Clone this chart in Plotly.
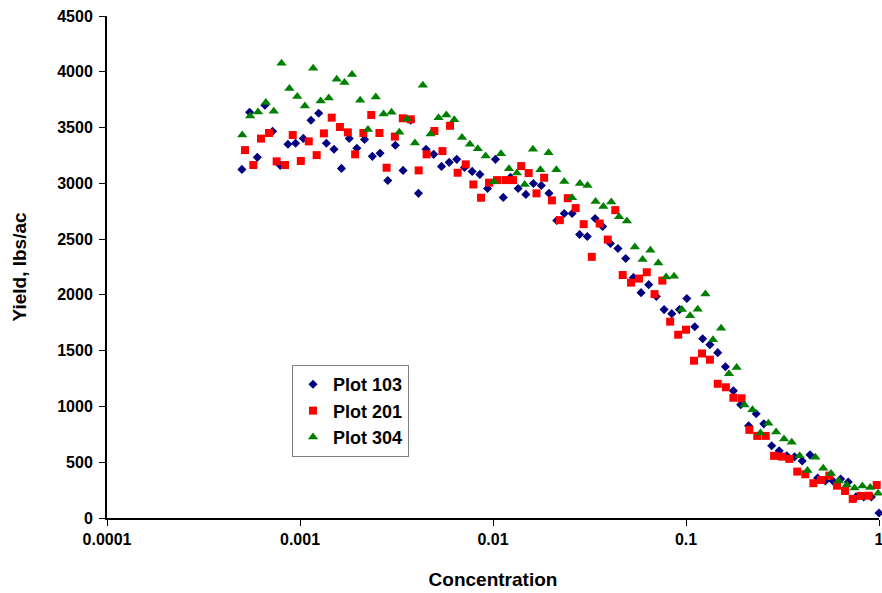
import plotly.graph_objects as go

# ---- data ----
plot103_conc = [0.000500, 0.000548, 0.000601, 0.000658, 0.000721, 0.000790, 0.000866, 0.000949, 0.00104, 0.00114,
                0.00125, 0.00137, 0.00150, 0.00164, 0.00180, 0.00197, 0.00216, 0.00237, 0.00260, 0.00285,
                0.00312, 0.00342, 0.00375, 0.00411, 0.00450, 0.00493, 0.00541, 0.00593, 0.00649, 0.00712,
                0.00780, 0.00855, 0.00937, 0.0103, 0.0113, 0.0123, 0.0135, 0.0148, 0.0162, 0.0178,
                0.0195, 0.0214, 0.0234, 0.0257, 0.0281, 0.0308, 0.0338, 0.0370, 0.0406, 0.0444,
                0.0487, 0.0534, 0.0585, 0.0641, 0.0702, 0.0770, 0.0844, 0.0925, 0.101, 0.111,
                0.122, 0.133, 0.146, 0.160, 0.176, 0.192, 0.211, 0.231, 0.253, 0.278,
                0.304, 0.333, 0.365, 0.400, 0.439, 0.481, 0.527, 0.577, 0.633, 0.693,
                0.760, 0.833, 0.913, 1.00]
plot103_yield = [3125, 3637, 3233, 3700, 3466, 3161, 3350, 3359, 3403, 3565,
                 3628, 3359, 3305, 3134, 3403, 3314, 3394, 3242, 3269, 3026,
                 3341, 3116, 3565, 2910, 3305, 3260, 3152, 3188, 3215, 3143,
                 3107, 3080, 2954, 3215, 2874, 3053, 2954, 2901, 2999, 2981,
                 2910, 2667, 2730, 2730, 2541, 2523, 2685, 2613, 2461, 2416,
                 2326, 2155, 2020, 2092, 1985, 1868, 1832, 1868, 1967, 1715,
                 1607, 1554, 1482, 1356, 1140, 1015, 826, 934, 844, 647,
                 602, 557, 548, 512, 566, 359, 332, 332, 350, 323,
                 189, 189, 189, 45]

plot201_conc = [0.000519, 0.000573, 0.000628, 0.000691, 0.000757, 0.000836, 0.000917, 0.00101, 0.00111, 0.00122,
                0.00133, 0.00146, 0.00161, 0.00177, 0.00193, 0.00213, 0.00234, 0.00258, 0.00281, 0.00310,
                0.00341, 0.00375, 0.00412, 0.00453, 0.00497, 0.00547, 0.00599, 0.00656, 0.00722, 0.00791,
                0.00867, 0.00954, 0.0105, 0.0116, 0.0127, 0.0140, 0.0153, 0.0168, 0.0184, 0.0202,
                0.0222, 0.0244, 0.0268, 0.0295, 0.0325, 0.0357, 0.0393, 0.0430, 0.0470, 0.0519,
                0.0571, 0.0626, 0.0687, 0.0754, 0.0828, 0.0911, 0.100, 0.110, 0.121, 0.133,
                0.146, 0.161, 0.176, 0.194, 0.213, 0.234, 0.259, 0.286, 0.314, 0.343,
                0.377, 0.415, 0.457, 0.501, 0.553, 0.606, 0.667, 0.731, 0.804, 0.884,
                0.973]
plot201_yield = [3298, 3164, 3401, 3451, 3197, 3164, 3433, 3200, 3376, 3253,
                 3448, 3589, 3505, 3457, 3260, 3451, 3613, 3451, 3140, 3419,
                 3583, 3574, 3116, 3260, 3469, 3289, 3516, 3095, 3170, 2990,
                 2871, 3006, 3029, 3029, 3029, 3155, 3092, 2910, 3050, 2847,
                 2670, 2867, 2778, 2634, 2341, 2640, 2496, 2760, 2178, 2110,
                 2146, 2203, 2007, 2128, 1760, 1643, 1688, 1410, 1475, 1419,
                 1203, 1172, 1078, 1073, 790, 736, 736, 557, 550, 530,
                 416, 392, 312, 341, 380, 290, 242, 171, 198, 200,
                 296]

plot304_conc = [0.000502, 0.000552, 0.000606, 0.000665, 0.000731, 0.000802, 0.000881, 0.000968, 0.00106, 0.00117,
                0.00128, 0.00141, 0.00155, 0.00170, 0.00186, 0.00205, 0.00225, 0.00247, 0.00271, 0.00298,
                0.00327, 0.00359, 0.00394, 0.00433, 0.00475, 0.00522, 0.00573, 0.00630, 0.00691, 0.00759,
                0.00834, 0.00916, 0.0101, 0.0110, 0.0121, 0.0133, 0.0146, 0.0161, 0.0176, 0.0194,
                0.0213, 0.0234, 0.0257, 0.0282, 0.0309, 0.0340, 0.0373, 0.0410, 0.0450, 0.0494,
                0.0543, 0.0596, 0.0654, 0.0719, 0.0789, 0.0867, 0.0952, 0.105, 0.115, 0.126,
                0.138, 0.152, 0.167, 0.183, 0.201, 0.221, 0.243, 0.267, 0.293, 0.322,
                0.353, 0.388, 0.426, 0.468, 0.514, 0.564, 0.619, 0.680, 0.747, 0.820,
                0.901, 0.989]
plot304_yield = [3433, 3604, 3640, 3724, 3646, 4077, 3850, 3778, 3693, 4032,
                 3738, 3765, 3933, 3904, 3975, 3745, 3482, 3774, 3622, 3637,
                 3457, 3577, 3361, 3879, 3442, 3589, 3613, 3570, 3410, 3350,
                 3311, 3244, 3015, 3266, 3131, 3092, 2990, 3305, 3122, 3275,
                 3122, 3017, 2871, 2999, 2981, 2838, 2793, 2833, 2700, 2663,
                 2429, 2317, 2400, 2285, 2161, 2167, 1868, 1814, 1871, 2009,
                 1598, 1700, 1293, 1350, 1012, 970, 763, 850, 770, 709,
                 680, 557, 425, 545, 446, 400, 332, 296, 269, 287,
                 274, 222]

x_tickvals = [0.0001, 0.001, 0.01, 0.1, 1]
x_ticktext = ["0.0001", "0.001", "0.01", "0.1", "1"]
y_tickvals = [0, 500, 1000, 1500, 2000, 2500, 3000, 3500, 4000, 4500]

FONT = "Liberation Sans, Arial, sans-serif"

fig = go.Figure()
fig.add_trace(go.Scatter(x=plot103_conc, y=plot103_yield, mode="markers", name="Plot 103",
                         legendgroup="a", cliponaxis=False,
                         marker=dict(symbol="diamond", size=7, color="#000080")))
fig.add_trace(go.Scatter(x=plot201_conc, y=plot201_yield, mode="markers", name="Plot 201",
                         legendgroup="b", cliponaxis=False,
                         marker=dict(symbol="square", size=8, color="#FF0000")))
fig.add_trace(go.Scatter(x=plot304_conc, y=plot304_yield, mode="markers", name="Plot 304",
                         legendgroup="c", cliponaxis=False,
                         marker=dict(symbol="triangle-up", size=9, color="#008000")))

fig.update_layout(
    width=882, height=593,
    margin=dict(l=107, r=3, t=16, b=75, autoexpand=False),
    paper_bgcolor="white", plot_bgcolor="white",
    font=dict(family=FONT, size=16, color="black", weight="bold"),
    showlegend=True,
    legend=dict(x=(292 - 107) / 772, y=(519 - 366) / 502, xanchor="left", yanchor="top",
                bgcolor="white", bordercolor="#808080", borderwidth=1,
                font=dict(family=FONT, size=18, color="black", weight="bold"),
                tracegroupgap=3, traceorder="normal"),
    xaxis=dict(type="log", range=[-4, 0], tickvals=x_tickvals, ticktext=x_ticktext,
               automargin=False,
               showgrid=False, zeroline=False, showline=True, linecolor="black", linewidth=2,
               ticks="outside", ticklen=6, tickwidth=1, tickcolor="black",
               ticklabeloverflow="allow",
               tickfont=dict(family=FONT, size=16, weight="bold"),
               title=dict(text="Concentration", font=dict(family=FONT, size=19, weight="bold"), standoff=25)),
    yaxis=dict(range=[0, 4500], tickvals=y_tickvals,
               automargin=False,
               showgrid=False, zeroline=False, showline=True, linecolor="black", linewidth=2,
               ticks="outside", ticklen=6, tickwidth=1, tickcolor="black",
               ticklabeloverflow="allow", ticklabelstandoff=3,
               tickfont=dict(family=FONT, size=16, weight="bold"),
               title=dict(text="Yield, lbs/ac", font=dict(family=FONT, size=19, weight="bold"), standoff=26)),
)

# remove the default page margin so the figure sits at the window's top-left corner
fig.write_html("out.html",
               config={"displayModeBar": False},
               post_script="document.body.style.margin='0';document.body.style.overflow='hidden';")
